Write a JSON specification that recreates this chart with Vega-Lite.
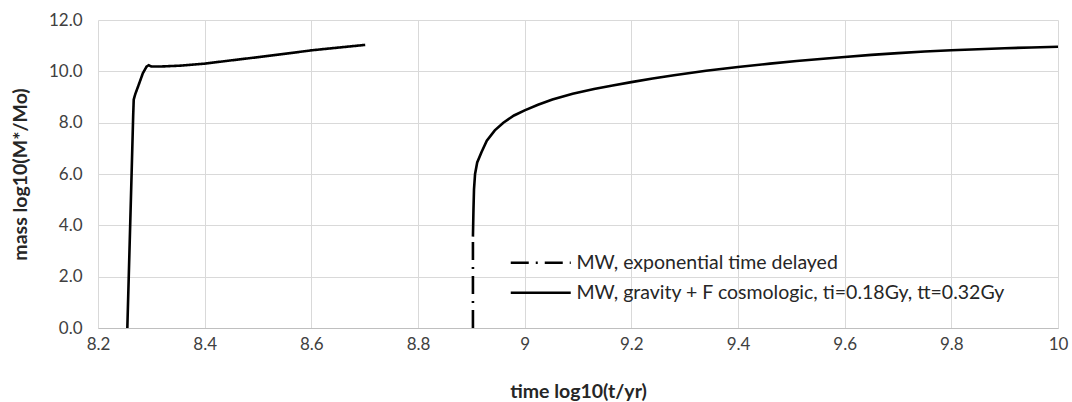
{
  "$schema": "https://vega.github.io/schema/vega-lite/v6.json",
  "width": 960,
  "height": 308,
  "autosize": {"type": "none"},
  "padding": {"left": 98, "top": 20, "right": 14, "bottom": 74},
  "background": "white",
  "config": {
    "view": {"stroke": null},
    "font": "Lato",
    "axis": {
      "gridColor": "#d9d9d9",
      "gridWidth": 1,
      "ticks": false,
      "labelFont": "Lato",
      "labelFontSize": 17,
      "labelColor": "#404040",
      "titleFont": "Lato",
      "titleFontSize": 19.5,
      "titleFontWeight": "bold",
      "titleColor": "#262626"
    }
  },
  "data": {
    "values": [
      {"series": "MW, gravity + F cosmologic, ti=0.18Gy, tt=0.32Gy", "part": "main", "x": 8.255, "y": 0},
      {"series": "MW, gravity + F cosmologic, ti=0.18Gy, tt=0.32Gy", "part": "main", "x": 8.263, "y": 6.0},
      {"series": "MW, gravity + F cosmologic, ti=0.18Gy, tt=0.32Gy", "part": "main", "x": 8.266, "y": 8.3},
      {"series": "MW, gravity + F cosmologic, ti=0.18Gy, tt=0.32Gy", "part": "main", "x": 8.267, "y": 8.9},
      {"series": "MW, gravity + F cosmologic, ti=0.18Gy, tt=0.32Gy", "part": "main", "x": 8.270, "y": 9.12},
      {"series": "MW, gravity + F cosmologic, ti=0.18Gy, tt=0.32Gy", "part": "main", "x": 8.275, "y": 9.40},
      {"series": "MW, gravity + F cosmologic, ti=0.18Gy, tt=0.32Gy", "part": "main", "x": 8.284, "y": 9.92},
      {"series": "MW, gravity + F cosmologic, ti=0.18Gy, tt=0.32Gy", "part": "main", "x": 8.291, "y": 10.18},
      {"series": "MW, gravity + F cosmologic, ti=0.18Gy, tt=0.32Gy", "part": "main", "x": 8.295, "y": 10.24},
      {"series": "MW, gravity + F cosmologic, ti=0.18Gy, tt=0.32Gy", "part": "main", "x": 8.300, "y": 10.19},
      {"series": "MW, gravity + F cosmologic, ti=0.18Gy, tt=0.32Gy", "part": "main", "x": 8.320, "y": 10.19},
      {"series": "MW, gravity + F cosmologic, ti=0.18Gy, tt=0.32Gy", "part": "main", "x": 8.353, "y": 10.22},
      {"series": "MW, gravity + F cosmologic, ti=0.18Gy, tt=0.32Gy", "part": "main", "x": 8.400, "y": 10.30},
      {"series": "MW, gravity + F cosmologic, ti=0.18Gy, tt=0.32Gy", "part": "main", "x": 8.447, "y": 10.42},
      {"series": "MW, gravity + F cosmologic, ti=0.18Gy, tt=0.32Gy", "part": "main", "x": 8.503, "y": 10.56},
      {"series": "MW, gravity + F cosmologic, ti=0.18Gy, tt=0.32Gy", "part": "main", "x": 8.553, "y": 10.69},
      {"series": "MW, gravity + F cosmologic, ti=0.18Gy, tt=0.32Gy", "part": "main", "x": 8.601, "y": 10.82},
      {"series": "MW, gravity + F cosmologic, ti=0.18Gy, tt=0.32Gy", "part": "main", "x": 8.653, "y": 10.93},
      {"series": "MW, gravity + F cosmologic, ti=0.18Gy, tt=0.32Gy", "part": "main", "x": 8.701, "y": 11.03},

      {"series": "MW, exponential time delayed", "part": "jump", "x": 8.903, "y": 0},
      {"series": "MW, exponential time delayed", "part": "jump", "x": 8.903, "y": 3.56},

      {"series": "MW, exponential time delayed", "part": "curve", "x": 8.903, "y": 3.56},
      {"series": "MW, exponential time delayed", "part": "curve", "x": 8.904, "y": 4.6},
      {"series": "MW, exponential time delayed", "part": "curve", "x": 8.905, "y": 5.4},
      {"series": "MW, exponential time delayed", "part": "curve", "x": 8.907, "y": 6.0},
      {"series": "MW, exponential time delayed", "part": "curve", "x": 8.911, "y": 6.45},
      {"series": "MW, exponential time delayed", "part": "curve", "x": 8.919, "y": 6.85},
      {"series": "MW, exponential time delayed", "part": "curve", "x": 8.929, "y": 7.3},
      {"series": "MW, exponential time delayed", "part": "curve", "x": 8.944, "y": 7.7},
      {"series": "MW, exponential time delayed", "part": "curve", "x": 8.960, "y": 8.0},
      {"series": "MW, exponential time delayed", "part": "curve", "x": 8.980, "y": 8.28},
      {"series": "MW, exponential time delayed", "part": "curve", "x": 9.000, "y": 8.48},
      {"series": "MW, exponential time delayed", "part": "curve", "x": 9.025, "y": 8.70},
      {"series": "MW, exponential time delayed", "part": "curve", "x": 9.052, "y": 8.90},
      {"series": "MW, exponential time delayed", "part": "curve", "x": 9.090, "y": 9.13},
      {"series": "MW, exponential time delayed", "part": "curve", "x": 9.130, "y": 9.31},
      {"series": "MW, exponential time delayed", "part": "curve", "x": 9.165, "y": 9.45},
      {"series": "MW, exponential time delayed", "part": "curve", "x": 9.200, "y": 9.58},
      {"series": "MW, exponential time delayed", "part": "curve", "x": 9.240, "y": 9.72},
      {"series": "MW, exponential time delayed", "part": "curve", "x": 9.280, "y": 9.85},
      {"series": "MW, exponential time delayed", "part": "curve", "x": 9.340, "y": 10.02},
      {"series": "MW, exponential time delayed", "part": "curve", "x": 9.400, "y": 10.17},
      {"series": "MW, exponential time delayed", "part": "curve", "x": 9.460, "y": 10.30},
      {"series": "MW, exponential time delayed", "part": "curve", "x": 9.510, "y": 10.40},
      {"series": "MW, exponential time delayed", "part": "curve", "x": 9.560, "y": 10.49},
      {"series": "MW, exponential time delayed", "part": "curve", "x": 9.600, "y": 10.56},
      {"series": "MW, exponential time delayed", "part": "curve", "x": 9.650, "y": 10.64},
      {"series": "MW, exponential time delayed", "part": "curve", "x": 9.700, "y": 10.71},
      {"series": "MW, exponential time delayed", "part": "curve", "x": 9.750, "y": 10.77},
      {"series": "MW, exponential time delayed", "part": "curve", "x": 9.800, "y": 10.82},
      {"series": "MW, exponential time delayed", "part": "curve", "x": 9.850, "y": 10.86},
      {"series": "MW, exponential time delayed", "part": "curve", "x": 9.900, "y": 10.90},
      {"series": "MW, exponential time delayed", "part": "curve", "x": 9.950, "y": 10.93},
      {"series": "MW, exponential time delayed", "part": "curve", "x": 10.000, "y": 10.96}
    ]
  },
  "encoding": {
    "x": {
      "field": "x",
      "type": "quantitative",
      "scale": {"domain": [8.2, 10], "nice": false, "zero": false},
      "axis": {
        "title": "time log10(t/yr)",
        "values": [8.2, 8.4, 8.6, 8.8, 9, 9.2, 9.4, 9.6, 9.8, 10],
        "format": ".1~f",
        "domainColor": "#bfbfbf",
        "domainWidth": 1,
        "labelPadding": 8,
        "titlePadding": 30,
        "labelFlush": false
      }
    },
    "y": {
      "field": "y",
      "type": "quantitative",
      "scale": {"domain": [0, 12], "nice": false},
      "axis": {
        "title": "mass log10(M*/Mo)",
        "values": [0, 2, 4, 6, 8, 10, 12],
        "format": ".1f",
        "domain": false,
        "labelPadding": 16,
        "titlePadding": 18
      }
    }
  },
  "layer": [
    {
      "transform": [{"filter": "datum.part != 'curve'"}],
      "mark": {"type": "line", "color": "black", "strokeWidth": 2.6, "clip": true},
      "encoding": {
        "detail": {"field": "part"},
        "strokeDash": {
          "field": "series",
          "type": "nominal",
          "scale": {
            "domain": ["MW, exponential time delayed", "MW, gravity + F cosmologic, ti=0.18Gy, tt=0.32Gy"],
            "range": [[18, 7, 2, 7], [1, 0]]
          },
          "legend": {
            "title": null,
            "orient": "none",
            "legendX": 433,
            "legendY": 233,
            "symbolType": "M-4,0H4",
            "symbolSize": 225,
            "symbolStrokeWidth": 2.6,
            "symbolStrokeColor": "black",
            "labelFont": "Lato",
            "labelFontSize": 19.5,
            "labelColor": "#262626",
            "labelOffset": 26,
            "rowPadding": 9,
            "labelLimit": 600
          }
        }
      }
    },
    {
      "transform": [{"filter": "datum.part == 'curve'"}],
      "mark": {"type": "line", "color": "black", "strokeWidth": 2.6, "clip": true},
      "encoding": {}
    }
  ]
}
